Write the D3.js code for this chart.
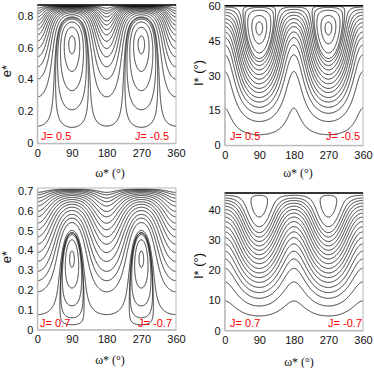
<!DOCTYPE html>
<meta charset="utf-8">
<style>
body { margin: 0; background: #fff; }
svg { display: block; font-family: "Liberation Sans", Arial, sans-serif; }
.frame { fill: none; stroke: #b8b8b8; stroke-width: 1px; }
.axis path { stroke: #b8b8b8; }
.axis text { font-size: 11px; fill: #111; }
.contour { fill: none; stroke: #000; stroke-width: 0.8px; }
.topline { stroke: #000; stroke-width: 1.4px; }
.jlab { font-size: 11px; fill: #f00; }
.xtitle { font-family: "Liberation Serif", "Times New Roman", serif; font-size: 12px; fill: #111; }
.ytitle { font-size: 13px; fill: #111; }
</style>
<body>
<svg width="374" height="368"></svg>
<script src="https://cdn.jsdelivr.net/npm/d3@7"></script>
<script>

var omegaTicks = [0, 90, 180, 270, 360];
var jLabelsTop = ["J= 0.5", "J= -0.5"];
var jLabelsBottom = ["J= 0.7", "J= -0.7"];

// e* / I* where each circulating curve cuts omega*=0
// and where each libration loop cuts omega*=90
var eOpen05 = [0.108, 0.291, 0.402, 0.479, 0.541, 0.594, 0.639, 0.679, 0.712, 0.741, 0.766, 0.791, 0.813, 0.829, 0.846];
var eLoop05 = [0.56, 0.45, 0.33, 0.21, 0.10];
var iOpen05 = [16.0, 31.7, 38.9, 43.1, 46.3, 48.7, 51.0, 52.7, 54.4, 55.9, 57.2, 58.4, 59.4];
var iLoop05 = [47.4, 43.6, 39.7, 37.3, 36.0];
var eOpen07 = [0.076, 0.191, 0.247, 0.294, 0.344, 0.389, 0.431, 0.468, 0.504, 0.537, 0.569, 0.596, 0.623, 0.645, 0.663, 0.680, 0.692];
var eLoop07 = [0.314, 0.21, 0.12, 0.06, 0.025];
var iOpen07 = [9.8, 16.1, 20.6, 23.7, 26.3, 28.7, 30.8, 32.7, 34.4, 36.1, 37.6, 38.9, 40.1, 41.2, 42.2, 43.1, 43.9, 44.8];
var iLoop07 = [37.6];

var eTicks05 = [0, 0.2, 0.4, 0.6, 0.8];
var iTicks05 = [0, 15, 30, 45, 60];
var eTicks07 = [0, 0.1, 0.2, 0.3, 0.4, 0.5, 0.6, 0.7];
var iTicks07 = [0, 10, 20, 30, 40];

var rad = Math.PI / 180;
var A = 1.18; // extra term, fitted so the islands sit where the picture has them

// secular (Kozai type) energy at (omega*, e* or I*) for a given J
function kozai(J, kind, w, v) {
  var e2, c2;
  if (kind === "e") { e2 = v * v; c2 = J * J / (1 - e2); }
  else { c2 = Math.pow(Math.cos(v * rad), 2); e2 = 1 - J * J / c2; }
  return (2 + 3 * e2) * (3 * c2 - 1) + 15 * e2 * (1 - c2) * Math.cos(2 * w * rad) + A * Math.log(1 - e2);
}

var panels = [
  {J: 0.5, kind: "e", open: eOpen05, loop: eLoop05, ticks: eTicks05, labels: jLabelsTop,
   left: 37.3, right: 176, bottom: 143.3, top: 5, topLine: true,
   ytitle: "e*", ytx: 11, yty: 71, xtx: 110, xty: 177, jy: 140, jl: 41, jr: 169},
  {J: 0.5, kind: "I", open: iOpen05, loop: iLoop05, ticks: iTicks05, labels: jLabelsTop,
   left: 224.7, right: 363, bottom: 145.3, top: 5.7, topLine: true,
   ytitle: "I* (°)", ytx: 203, yty: 73, xtx: 298, xty: 177, jy: 140, jl: 230, jr: 360},
  {J: 0.7, kind: "e", open: eOpen07, loop: eLoop07, ticks: eTicks07, labels: jLabelsBottom,
   left: 37.3, right: 176, bottom: 329.7, top: 188, topLine: false,
   ytitle: "e*", ytx: 11, yty: 257, xtx: 110, xty: 364, jy: 327, jl: 40, jr: 172},
  {J: 0.7, kind: "I", open: iOpen07, loop: iLoop07, ticks: iTicks07, labels: jLabelsBottom,
   left: 224.7, right: 363, bottom: 330.5, top: 193, topLine: true,
   ytitle: "I* (°)", ytx: 203, yty: 266, xtx: 299, xty: 366, jy: 327, jl: 230, jr: 362}
];

var svg = d3.select("svg");

panels.forEach(function(p, k) {
  var vmax = p.kind === "e" ? Math.sqrt(1 - p.J * p.J) : Math.acos(p.J) / rad;
  var x = d3.scaleLinear().domain([0, 360]).range([p.left, p.right]);
  var y = d3.scaleLinear().domain([0, vmax]).range([p.bottom, p.top]);
  var g = svg.append("g");

  // grid a bit larger than the frame, mirrored at the edges
  var nx = 421, ny = 420, w0 = -30, dw = 1;
  var v0 = -0.05 * vmax, dv = 1.1 * vmax / (ny - 1);
  var values = new Float64Array(nx * ny);
  for (var j = 0; j < ny; j++) {
    var v = Math.abs(v0 + j * dv);
    if (v > vmax) v = 2 * vmax - v;
    for (var i = 0; i < nx; i++) values[i + j * nx] = kozai(p.J, p.kind, w0 + i * dw, v);
  }

  var levels = p.open.map(function(v) { return kozai(p.J, p.kind, 0, v); })
    .concat(p.loop.map(function(v) { return kozai(p.J, p.kind, 90, v); }));

  var contours = d3.contours().size([nx, ny]).thresholds(levels)(values);
  var proj = d3.geoTransform({ point: function(px, py) {
    this.stream.point(x(w0 + (px - 0.5) * dw), y(v0 + (py - 0.5) * dv));
  }});
  var path = d3.geoPath(proj);

  g.append("clipPath").attr("id", "clip" + k)
    .append("rect").attr("x", p.left).attr("y", p.top)
    .attr("width", p.right - p.left).attr("height", p.bottom - p.top);

  g.append("g").attr("clip-path", "url(#clip" + k + ")")
    .selectAll("path").data(contours).join("path")
    .attr("class", "contour").attr("d", path);

  g.append("rect").attr("class", "frame")
    .attr("x", p.left).attr("y", p.top)
    .attr("width", p.right - p.left).attr("height", p.bottom - p.top);
  if (p.topLine) {
    g.append("line").attr("class", "topline")
      .attr("x1", p.left).attr("x2", p.right).attr("y1", p.top).attr("y2", p.top);
  }

  g.append("g").attr("class", "axis").attr("transform", "translate(0," + p.bottom + ")")
    .call(d3.axisBottom(x).tickValues(omegaTicks).tickSize(0).tickSizeOuter(0).tickPadding(6));
  g.append("g").attr("class", "axis").attr("transform", "translate(" + p.left + ",0)")
    .call(d3.axisLeft(y).tickValues(p.ticks).tickSize(0).tickSizeOuter(0).tickPadding(4)
      .tickFormat(d3.format("~g")));

  g.append("text").attr("class", "xtitle").attr("x", p.xtx).attr("y", p.xty)
    .attr("text-anchor", "middle").text("ω* (°)");
  g.append("text").attr("class", "ytitle")
    .attr("transform", "translate(" + p.ytx + "," + p.yty + ") rotate(-90)")
    .attr("text-anchor", "middle").text(p.ytitle);

  g.append("text").attr("class", "jlab").attr("x", p.jl).attr("y", p.jy).text(p.labels[0]);
  g.append("text").attr("class", "jlab").attr("x", p.jr).attr("y", p.jy)
    .attr("text-anchor", "end").text(p.labels[1]);
});
</script>
